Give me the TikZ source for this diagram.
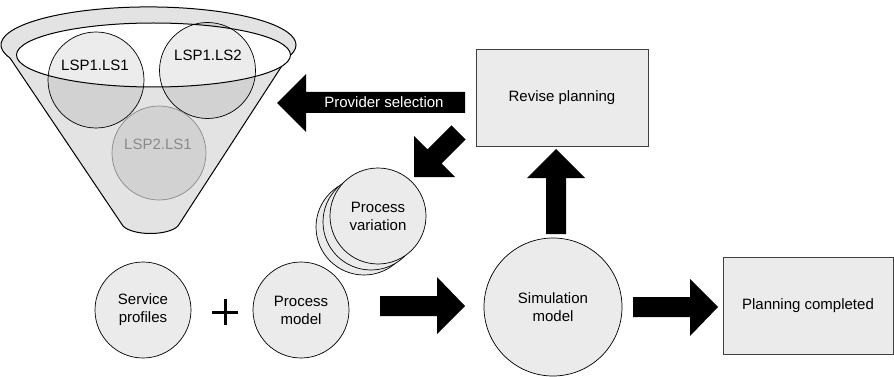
\documentclass[tikz,border=0pt]{standalone}
\usepackage{fontspec}
\setmainfont{Liberation Sans}
\usetikzlibrary{calc}
\definecolor{boxfill}{HTML}{EBEBEB}
\definecolor{funnelfill}{HTML}{E3E3E3}
\definecolor{lspgray}{HTML}{8A8A8A}
\begin{document}
\begin{tikzpicture}[x=1pt,y=-1pt,
  every node/.style={font=\fontsize{15}{18}\selectfont, align=center},
  bubble/.style={circle, draw=black, line width=0.7pt, fill=boxfill, inner sep=0pt, minimum size=96pt},
  planbox/.style={draw=black!75, line width=0.9pt, fill=boxfill, inner sep=0pt, minimum height=97pt},
  lspcircle/.style={circle, draw=black, line width=0.7pt, fill=black, fill opacity=0.075, inner sep=0pt, minimum size=96pt},
  blockarrow/.style={fill=black, draw=none},
  rim/.style={draw=black, line width=1pt}
]
\useasboundingbox (0,0) rectangle (894,377);

% ---------- funnel ----------
\path[rim, fill=funnelfill]
  (10,58) arc[start angle=200.1, end angle=-20.1, x radius=147.5pt, y radius=38pt]
  -- (178,226) .. controls (168,236) and (133,236) .. (123,226) -- cycle;
\fill[white] (153.5,55) ellipse[x radius=137pt, y radius=32pt];
\node[lspcircle] (c1) at (96,80) {};
\node[lspcircle] (c2) at (207.5,70.5) {};
\node[lspcircle, draw=lspgray, minimum size=94pt] (c3) at (159,153) {};
\draw[rim] (153.5,55) ellipse[x radius=137pt, y radius=32pt];
\node (t1) at (95,65) {LSP1.LS1};
\node (t2) at (208,55) {LSP1.LS2};
\node[text=lspgray] (t3) at (158,144) {LSP2.LS1};

% ---------- boxes ----------
\node[planbox, minimum width=172pt] (rev) at (562,97.5) {Revise planning};
\node[planbox, minimum width=170pt] (done) at (808,305.5) {Planning completed};

% ---------- circles ----------
\node[bubble] (pv3) at (364,227) {};
\node[bubble] (pv2) at (371,222) {};
\node[bubble] (pv) at (378,216) {Process\\variation};
\node[bubble] (sp) at (143,310) {Service\\profiles};
\node[bubble] (pm) at (301,310) {Process\\model};
\node[bubble, minimum size=138pt] (sim) at (553,307) {Simulation\\model};

% plus sign
\coordinate (plus) at (225,312);
\draw[line width=3pt] ($(plus)+(-13,0)$) -- ($(plus)+(13,0)$)
                      ($(plus)+(0,-13)$) -- ($(plus)+(0,13)$);

% ---------- block arrows ----------
% provider selection (left)
\fill[blockarrow] (465,92) -- (306,92) -- (306,74) -- (277,103) -- (306,132)
  -- (306,113) -- (465,113) -- cycle;
\node[text=white] (prov) at (384,102) {Provider selection};
% diagonal (down-left) to process variation
\fill[blockarrow] (414,177) -- (414,136) -- (427.4,149.4) -- (451.4,125.4)
  -- (465.6,139.6) -- (441.6,163.6) -- (455,177) -- cycle;
% up arrow from simulation to revise planning
\fill[blockarrow] (546,234) -- (546,178) -- (527,178) -- (556,149) -- (585,178)
  -- (566,178) -- (566,234) -- cycle;
% process model -> simulation
\fill[blockarrow] (380,296) -- (437,296) -- (437,277) -- (465,306) -- (437,334)
  -- (437,316) -- (380,316) -- cycle;
% simulation -> planning completed
\fill[blockarrow] (633,297) -- (690,297) -- (690,279) -- (718,307) -- (690,336)
  -- (690,317) -- (633,317) -- cycle;
\end{tikzpicture}
\end{document}
